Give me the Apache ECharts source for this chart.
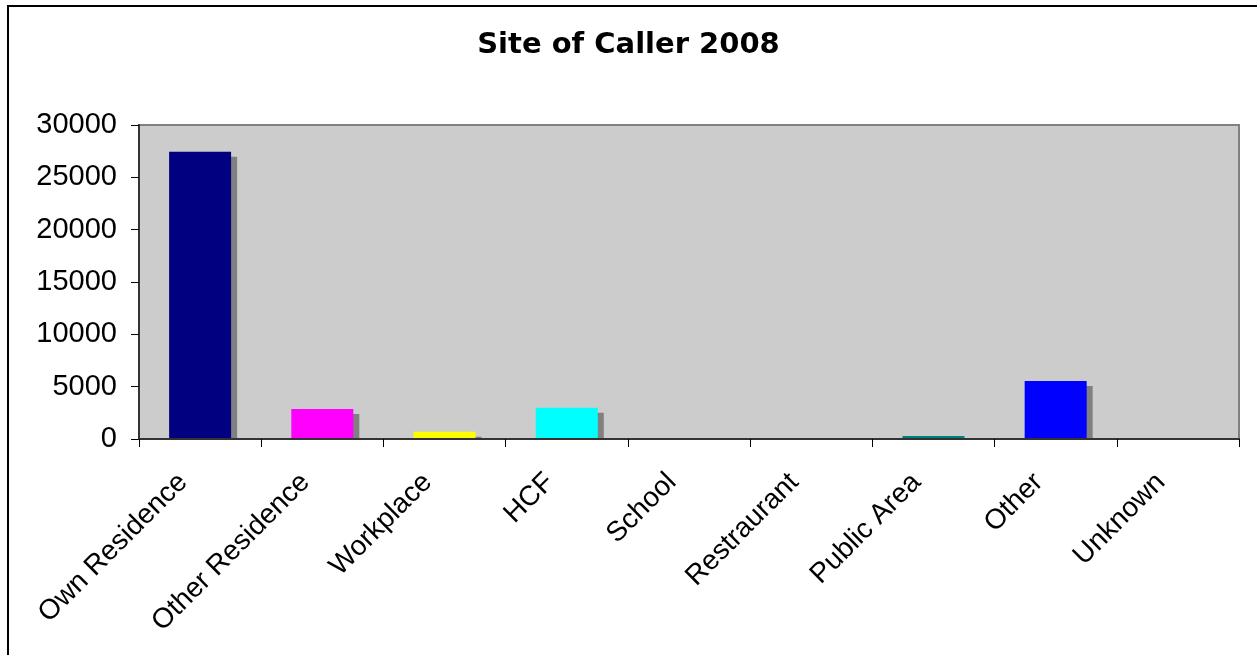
<!DOCTYPE html>
<html>
<head>
<meta charset="utf-8">
<title>Site of Caller 2008</title>
<script src="https://cdn.jsdelivr.net/npm/echarts@6/dist/echarts.min.js"></script>
<style>
  html, body { margin: 0; padding: 0; background: #fff; }
  #chart { width: 1257px; height: 655px; }
</style>
</head>
<body>
<div id="chart"></div>
<script>
// data
var categories = ["Own Residence", "Other Residence", "Workplace", "HCF", "School",
  "Restraurant", "Public Area", "Other", "Unknown"];
var calls = [27450, 2870, 700, 2990, 30, 5, 280, 5540, 10];
var barColors = ["#000080", "#FF00FF", "#FFFF00", "#00FFFF", "#800080",
  "#800000", "#008080", "#0000FF", "#00CCFF"];
var yTicks = [0, 5000, 10000, 15000, 20000, 25000, 30000];

var myChart = echarts.init(document.getElementById("chart"));

myChart.setOption({
  animation: false,
  backgroundColor: "#ffffff",
  title: {
    text: "Site of Caller 2008",
    left: "center",
    top: 26,
    textStyle: {
      fontFamily: "DejaVu Sans",
      fontWeight: "bold",
      fontSize: 29,
      color: "#000"
    }
  },
  graphic: [
    // outer chart frame
    {
      type: "rect",
      shape: { x: 8, y: 6, width: 1270, height: 670 },
      style: { fill: "none", stroke: "#000", lineWidth: 2 },
      silent: true
    },
    // hide the part of the bar shadows that falls under the axis
    {
      type: "rect",
      z: 3,
      shape: { x: 140, y: 440, width: 1105, height: 8 },
      style: { fill: "#fff" },
      silent: true
    }
  ],
  grid: {
    left: 139,
    right: 18,
    top: 125,
    bottom: 216,
    show: true,
    backgroundColor: "#CCCCCC",
    borderColor: "#808080",
    borderWidth: 2
  },
  xAxis: {
    type: "category",
    data: categories,
    z: 5,
    axisLine: { show: true, lineStyle: { color: "#333", width: 2 } },
    axisTick: { show: true, length: 8, lineStyle: { color: "#000", width: 1 } },
    axisLabel: {
      rotate: 45,
      interval: 0,
      margin: 22,
      padding: [0, 24, 0, 0],
      fontFamily: "Liberation Sans",
      fontSize: 28,
      color: "#000"
    },
    splitLine: { show: false }
  },
  yAxis: {
    type: "value",
    min: yTicks[0],
    max: yTicks[yTicks.length - 1],
    interval: 5000,
    axisLine: { show: true, lineStyle: { color: "#333", width: 2 } },
    axisTick: { show: true, length: 8, lineStyle: { color: "#000", width: 1 } },
    axisLabel: {
      margin: 22,
      fontFamily: "Liberation Sans",
      fontSize: 29,
      color: "#000",
      formatter: function (v) { return String(v); }
    },
    splitLine: { show: false }
  },
  series: [{
    type: "bar",
    barWidth: 62,
    data: calls.map(function (v, i) {
      return { value: v, itemStyle: { color: barColors[i] } };
    }),
    itemStyle: {
      shadowColor: "#808080",
      shadowBlur: 0,
      shadowOffsetX: 6,
      shadowOffsetY: 5
    }
  }]
});
</script>
</body>
</html>
